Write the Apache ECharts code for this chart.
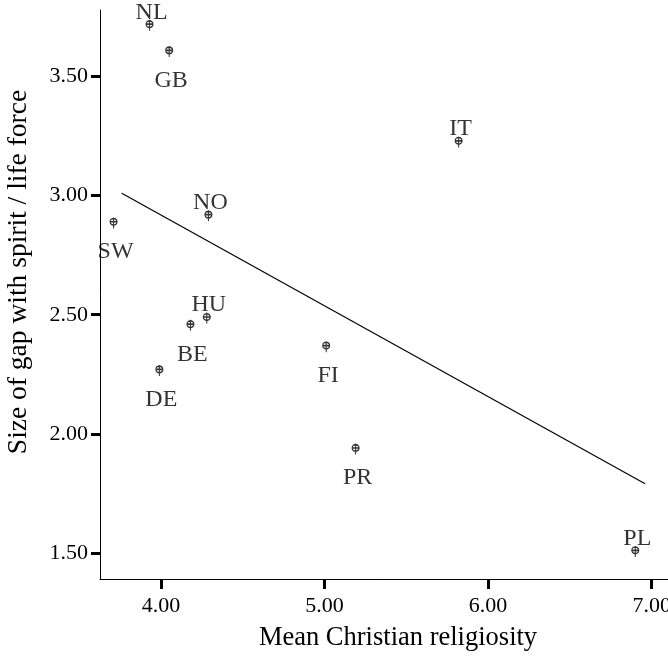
<!DOCTYPE html>
<html>
<head>
<meta charset="utf-8">
<script src="https://cdn.jsdelivr.net/npm/echarts@6/dist/echarts.min.js"></script>
<style>html,body{margin:0;padding:0;background:#fff;}#c{width:668px;height:656px;}</style>
</head>
<body>
<div id="c"></div>
<script>
const countries = ['NL','GB','IT','NO','SW','HU','BE','DE','FI','PR','PL'];
const religiosity = [3.93,4.05,5.82,4.29,3.71,4.28,4.18,3.99,5.01,5.19,6.90];
const gapSize = [3.72,3.61,3.23,2.92,2.89,2.49,2.46,2.27,2.37,1.94,1.51];
const fitX = [3.76, 6.96];
const fitY = [3.01, 1.79];
const xTicks = [4, 5, 6, 7];
const yTicks = [1.5, 2, 2.5, 3, 3.5];
const xTitle = 'Mean Christian religiosity';
const yTitle = 'Size of gap with spirit / life force';

const labelsAbove = ['NL','IT','NO','HU','PL'];
const FONT = '"Liberation Serif", "Times New Roman", serif';

const chart = echarts.init(document.getElementById('c'), null, {renderer: 'canvas'});
const pts = countries.map((c, i) => ({
  name: c,
  value: [religiosity[i], gapSize[i]],
  label: { offset: labelsAbove.includes(c) ? [2, -13] : [2, 29] }
}));
const axisCommon = {
  type: 'value',
  splitLine: {show: false},
  axisLine: {show: true, onZero: false, lineStyle: {color: '#000', width: 1}}
};
chart.setOption({
  animation: false,
  backgroundColor: '#fff',
  grid: {left: 100, right: 0, top: 10, bottom: 77, outerBoundsMode: 'none', containLabel: false},
  graphic: [
    {
      type: 'text', x: 398, y: 638, silent: true,
      style: {text: xTitle, x: 0, y: 0, align: 'center', verticalAlign: 'middle',
        font: '26.5px ' + FONT, fill: '#000'}
    },
    {
      type: 'text', x: 19, y: 272, rotation: Math.PI / 2, silent: true,
      style: {text: yTitle, x: 0, y: 0, align: 'center', verticalAlign: 'middle',
        font: '27.5px ' + FONT, fill: '#000'}
    }
  ],
  xAxis: Object.assign({}, axisCommon, {
    min: 3.627, max: 7.1,
    axisTick: {show: true, customValues: xTicks, length: 10, lineStyle: {color: '#000', width: 3}},
    axisLabel: {customValues: xTicks, formatter: v => v.toFixed(2), fontFamily: FONT, fontSize: 22, color: '#000', margin: 16}
  }),
  yAxis: Object.assign({}, axisCommon, {
    min: 1.39, max: 3.78,
    axisTick: {show: true, customValues: yTicks, length: 9, lineStyle: {color: '#000', width: 3}},
    axisLabel: {customValues: yTicks, formatter: v => v.toFixed(2), fontFamily: FONT, fontSize: 22, color: '#000', margin: 12}
  }),
  series: [
    {
      type: 'line',
      data: fitX.map((x, i) => [x, fitY[i]]),
      showSymbol: false,
      lineStyle: {color: '#000', width: 1.2},
      silent: true
    },
    {
      type: 'scatter',
      data: pts,
      symbol: 'path://M4,1 A3,3 0 1,1 4,7 A3,3 0 1,1 4,1 Z M1,4 L7,4 M4,0 L4,10',
      symbolSize: [7, 11],
      symbolOffset: [0, 1],
      itemStyle: {color: 'rgba(0,0,0,0)', borderColor: '#000', borderWidth: 1.3},
      label: {
        show: true, position: 'inside', formatter: p => p.name,
        fontFamily: FONT, fontSize: 24, color: '#000'
      }
    }
  ]
});
</script>
</body>
</html>
